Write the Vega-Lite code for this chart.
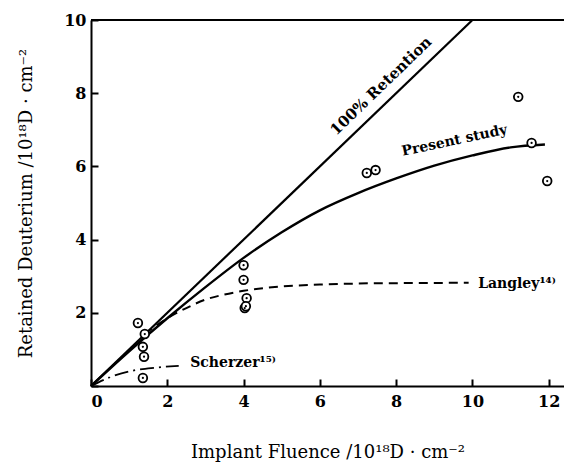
{
  "$schema": "https://vega.github.io/schema/vega-lite/v6.json",
  "width": 473,
  "height": 366,
  "padding": {"left": 91, "top": 20, "right": 0, "bottom": 83},
  "autosize": {"type": "none"},
  "config": {
    "view": {"stroke": null},
    "font": "DejaVu Serif",
    "axis": {
      "domainColor": "black", "domainWidth": 2, "tickColor": "black", "tickWidth": 2,
      "grid": false, "labelFont": "DejaVu Serif", "labelFontWeight": "bold", "labelFontSize": 16,
      "labelColor": "black", "titleFont": "DejaVu Serif", "titleFontWeight": "normal",
      "titleFontSize": 18, "titleColor": "black"
    }
  },
  "datasets": {
    "lines": [
      {"series": "retention", "x": 0, "y": 0},
      {"series": "retention", "x": 10, "y": 10},
      {"series": "present", "x": 0, "y": 0},
      {"series": "present", "x": 1, "y": 0.95},
      {"series": "present", "x": 2, "y": 1.85},
      {"series": "present", "x": 3, "y": 2.7},
      {"series": "present", "x": 4, "y": 3.5},
      {"series": "present", "x": 5, "y": 4.2},
      {"series": "present", "x": 6, "y": 4.8},
      {"series": "present", "x": 7, "y": 5.27},
      {"series": "present", "x": 8, "y": 5.67},
      {"series": "present", "x": 9, "y": 6.02},
      {"series": "present", "x": 10, "y": 6.3},
      {"series": "present", "x": 11, "y": 6.52},
      {"series": "present", "x": 11.9, "y": 6.6},
      {"series": "langley", "x": 1.4, "y": 1.42},
      {"series": "langley", "x": 2, "y": 1.85},
      {"series": "langley", "x": 2.5, "y": 2.13},
      {"series": "langley", "x": 3, "y": 2.36},
      {"series": "langley", "x": 3.5, "y": 2.5},
      {"series": "langley", "x": 4, "y": 2.6},
      {"series": "langley", "x": 5, "y": 2.72},
      {"series": "langley", "x": 6, "y": 2.77},
      {"series": "langley", "x": 7, "y": 2.8},
      {"series": "langley", "x": 8, "y": 2.81},
      {"series": "langley", "x": 9.9, "y": 2.82},
      {"series": "scherzer", "x": 0, "y": 0},
      {"series": "scherzer", "x": 0.5, "y": 0.24},
      {"series": "scherzer", "x": 1, "y": 0.4},
      {"series": "scherzer", "x": 1.5, "y": 0.48},
      {"series": "scherzer", "x": 2.3, "y": 0.55}
    ],
    "points": [
      {"x": 1.23, "y": 1.72},
      {"x": 1.41, "y": 1.42},
      {"x": 1.36, "y": 1.07},
      {"x": 1.39, "y": 0.8},
      {"x": 1.36, "y": 0.22},
      {"x": 4.0, "y": 3.3},
      {"x": 4.0, "y": 2.9},
      {"x": 4.08, "y": 2.4},
      {"x": 4.03, "y": 2.13},
      {"x": 4.06, "y": 2.18},
      {"x": 7.23, "y": 5.82},
      {"x": 7.46, "y": 5.9},
      {"x": 11.2, "y": 7.9},
      {"x": 11.55, "y": 6.64},
      {"x": 11.96, "y": 5.6}
    ]
  },
  "layer": [
    {
      "data": {"values": [{"y": 10}]},
      "mark": {"type": "rule", "color": "black", "strokeWidth": 2},
      "encoding": {"y": {"field": "y", "type": "quantitative", "scale": {"domain": [0, 10], "nice": false}}}
    },
    {
      "data": {"name": "lines"},
      "transform": [{"filter": "datum.series === 'retention'"}],
      "mark": {"type": "line", "color": "black", "strokeWidth": 2.2},
      "encoding": {
        "x": {"field": "x", "type": "quantitative",
          "scale": {"domain": [0, 12.4], "nice": false, "zero": true},
          "axis": {"values": [0, 2, 4, 6, 8, 10, 12], "tickSize": -7, "labelPadding": 14, "title": "Implant Fluence /10¹⁸D · cm⁻²", "titlePadding": 34}},
        "y": {"field": "y", "type": "quantitative",
          "scale": {"domain": [0, 10], "nice": false},
          "axis": {"values": [0, 2, 4, 6, 8, 10], "labelExpr": "datum.value === 0 ? '' : datum.label", "tickSize": -7, "labelPadding": 12, "title": "Retained Deuterium /10¹⁸D · cm⁻²", "titlePadding": 28}}
      }
    },
    {
      "data": {"name": "lines"},
      "transform": [{"filter": "datum.series === 'present'"}],
      "mark": {"type": "line", "color": "black", "strokeWidth": 2.4, "interpolate": "monotone"},
      "encoding": {"x": {"field": "x", "type": "quantitative"}, "y": {"field": "y", "type": "quantitative"}}
    },
    {
      "data": {"name": "lines"},
      "transform": [{"filter": "datum.series === 'langley'"}],
      "mark": {"type": "line", "color": "black", "strokeWidth": 2, "strokeDash": [9, 6], "interpolate": "monotone"},
      "encoding": {"x": {"field": "x", "type": "quantitative"}, "y": {"field": "y", "type": "quantitative"}}
    },
    {
      "data": {"name": "lines"},
      "transform": [{"filter": "datum.series === 'scherzer'"}],
      "mark": {"type": "line", "color": "black", "strokeWidth": 1.8, "strokeDash": [14, 5, 2, 5], "interpolate": "monotone"},
      "encoding": {"x": {"field": "x", "type": "quantitative"}, "y": {"field": "y", "type": "quantitative"}}
    },
    {
      "data": {"name": "points"},
      "mark": {"type": "point", "shape": "circle", "filled": true, "fill": "white", "stroke": "black", "strokeWidth": 1.8, "size": 75, "opacity": 1},
      "encoding": {"x": {"field": "x", "type": "quantitative"}, "y": {"field": "y", "type": "quantitative"}}
    },
    {
      "data": {"name": "points"},
      "mark": {"type": "point", "shape": "circle", "filled": true, "color": "black", "size": 5, "opacity": 1},
      "encoding": {"x": {"field": "x", "type": "quantitative"}, "y": {"field": "y", "type": "quantitative"}}
    },
    {
      "data": {"values": [{"x": 7.6, "y": 8.2, "label": "100% Retention"}]},
      "mark": {"type": "text", "angle": -44, "font": "DejaVu Serif", "fontWeight": "bold", "fontSize": 15, "color": "black", "align": "center", "baseline": "middle"},
      "encoding": {"x": {"field": "x", "type": "quantitative"}, "y": {"field": "y", "type": "quantitative"}, "text": {"field": "label"}}
    },
    {
      "data": {"values": [{"x": 9.53, "y": 6.7, "label": "Present study"}]},
      "mark": {"type": "text", "angle": -12, "font": "DejaVu Serif", "fontWeight": "bold", "fontSize": 14, "color": "black", "align": "center", "baseline": "middle"},
      "encoding": {"x": {"field": "x", "type": "quantitative"}, "y": {"field": "y", "type": "quantitative"}, "text": {"field": "label"}}
    },
    {
      "data": {"values": [{"x": 10.15, "y": 2.8, "label": "Langley¹⁴⁾"}, {"x": 2.6, "y": 0.62, "label": "Scherzer¹⁵⁾"}]},
      "mark": {"type": "text", "font": "DejaVu Serif", "fontWeight": "bold", "fontSize": 14, "color": "black", "align": "left", "baseline": "middle"},
      "encoding": {"x": {"field": "x", "type": "quantitative"}, "y": {"field": "y", "type": "quantitative"}, "text": {"field": "label"}}
    }
  ],
  "resolve": {"scale": {"x": "shared", "y": "shared"}}
}
